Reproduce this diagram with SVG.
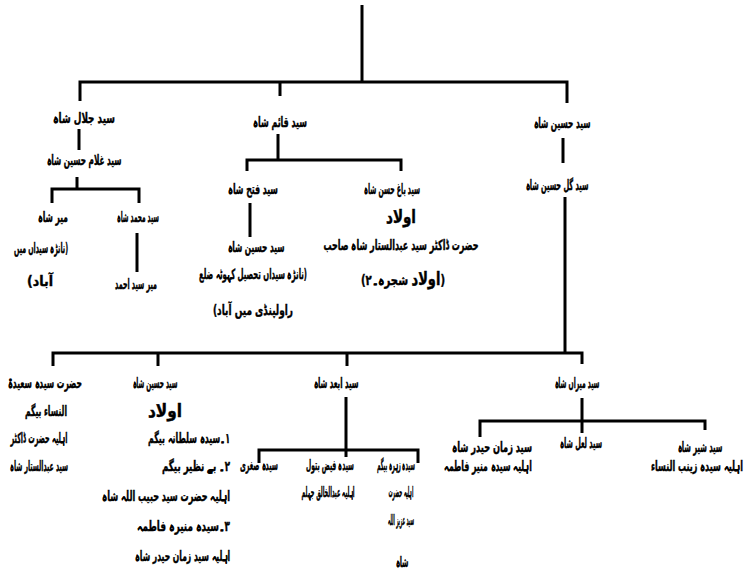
<svg xmlns="http://www.w3.org/2000/svg" width="748" height="575" viewBox="0 0 748 575">
<style>
.c{fill:none;stroke:#000;stroke-width:3}
text{font-family:"DejaVu Sans Condensed","DejaVu Sans",sans-serif;font-weight:bold;font-size:14px;fill:#000;stroke:#000;stroke-width:0.4;text-anchor:middle;direction:rtl}
.big{font-size:18px}
.r{text-anchor:start}
</style>
<rect width="748" height="575" fill="#fff"/>
<g id="connectors">
<path class="c" d="M362,5V82"/>
<path class="c" d="M80,101V82H567V103M280,82V96"/>
<path class="c" d="M79,129V150"/>
<path class="c" d="M77,177V189M52,203V189H139V203"/>
<path class="c" d="M137,233V272"/>
<path class="c" d="M278,134V160M247,171V160H401V171"/>
<path class="c" d="M250,203V237"/>
<path class="c" d="M563,138V163"/>
<path class="c" d="M565,197V353"/>
<path class="c" d="M53,366V353H582V364M158,353V366M347,353V366"/>
<path class="c" d="M582,398V421M480,437V421H705V430M582,421V433"/>
<path class="c" d="M346,397V450M259,463V450H418V463M346,450V457"/>
</g>
<g id="n-jalal"><text x="84" y="123" textLength="62" lengthAdjust="spacingAndGlyphs">سید جلال شاہ</text></g>
<g id="n-ghulam"><text x="84" y="165" textLength="75" lengthAdjust="spacingAndGlyphs">سید غلام حسین شاہ</text></g>
<g id="n-mirshah"><text x="53" y="222" textLength="30" lengthAdjust="spacingAndGlyphs">میر شاہ</text><text x="41" y="253" textLength="54" lengthAdjust="spacingAndGlyphs">(نانڑہ سیداں میں</text><text x="40" y="286" textLength="26" lengthAdjust="spacingAndGlyphs">آباد)</text></g>
<g id="n-muhammad"><text x="138" y="222" textLength="42" lengthAdjust="spacingAndGlyphs">سید محمد شاہ</text></g>
<g id="n-mirahmad"><text x="136" y="289" textLength="42" lengthAdjust="spacingAndGlyphs">میر سید احمد</text></g>
<g id="n-qaim"><text x="280" y="127" textLength="54" lengthAdjust="spacingAndGlyphs">سید قائم شاہ</text></g>
<g id="n-fateh"><text x="253" y="194" textLength="50" lengthAdjust="spacingAndGlyphs">سید فتح شاہ</text></g>
<g id="n-husain2"><text x="256" y="252" textLength="57" lengthAdjust="spacingAndGlyphs">سید حسین شاہ</text><text x="253" y="279" textLength="108" lengthAdjust="spacingAndGlyphs">(نانڑہ سیداں تحصیل کہوٹہ ضلع</text><text x="253" y="315" textLength="80" lengthAdjust="spacingAndGlyphs">راولپنڈی میں آباد)</text></g>
<g id="n-bagh"><text x="392" y="194" textLength="56" lengthAdjust="spacingAndGlyphs">سید باغ حسن شاہ</text><text class="big" x="401" y="223" textLength="30" lengthAdjust="spacingAndGlyphs">اولاد</text><text x="401" y="250" textLength="155" lengthAdjust="spacingAndGlyphs">حضرت ڈاکٹر سید عبدالستار شاہ صاحب</text><text x="403" y="285" textLength="84" lengthAdjust="spacingAndGlyphs">(<tspan class="big">اولاد</tspan> شجرہ۔۲)</text></g>
<g id="n-husainR"><text x="562" y="128" textLength="57" lengthAdjust="spacingAndGlyphs">سید حسین شاہ</text></g>
<g id="n-gul"><text x="557" y="190" textLength="63" lengthAdjust="spacingAndGlyphs">سید گل حسین شاہ</text></g>
<g id="n-saeeda"><text x="45" y="388" textLength="74" lengthAdjust="spacingAndGlyphs">حضرت سیدہ سعیدۃ</text><text x="46" y="416" textLength="42" lengthAdjust="spacingAndGlyphs">النساء بیگم</text><text x="39" y="443" textLength="57" lengthAdjust="spacingAndGlyphs">اہلیہ حضرت ڈاکٹر</text><text x="39" y="471" textLength="58" lengthAdjust="spacingAndGlyphs">سید عبدالستار شاہ</text></g>
<g id="n-husain3"><text x="155" y="388" textLength="45" lengthAdjust="spacingAndGlyphs">سید حسین شاہ</text><text class="big" x="165" y="417" textLength="34" lengthAdjust="spacingAndGlyphs">اولاد</text><text class="r" x="230" y="443" textLength="82" lengthAdjust="spacingAndGlyphs">۱۔سیدہ سلطانہ بیگم</text><text class="r" x="230" y="471" textLength="68" lengthAdjust="spacingAndGlyphs">۲۔ بے نظیر بیگم</text><text class="r" x="230" y="501" textLength="128" lengthAdjust="spacingAndGlyphs">اہلیہ حضرت سید حبیب اللہ شاہ</text><text class="r" x="230" y="531" textLength="93" lengthAdjust="spacingAndGlyphs">۳۔سیدہ منیرہ فاطمہ</text><text class="r" x="230" y="561" textLength="95" lengthAdjust="spacingAndGlyphs">اہلیہ سید زمان حیدر شاہ</text></g>
<g id="n-abd"><text x="336" y="388" textLength="45" lengthAdjust="spacingAndGlyphs">سید ابعد شاہ</text></g>
<g id="n-sughra"><text x="259" y="470" textLength="38" lengthAdjust="spacingAndGlyphs">سیدہ صغری</text></g>
<g id="n-faiz"><text x="330" y="470" textLength="48" lengthAdjust="spacingAndGlyphs">سیدہ فیض بتول</text><text x="328" y="497" textLength="53" lengthAdjust="spacingAndGlyphs">اہلیہ عبدالخالق جہلم</text></g>
<g id="n-zahra"><text x="396" y="470" textLength="38" lengthAdjust="spacingAndGlyphs">سیدہ زہرہ بیگم</text><text x="401" y="497" textLength="25" lengthAdjust="spacingAndGlyphs">اہلیہ حضرت</text><text x="401" y="525" textLength="26" lengthAdjust="spacingAndGlyphs">سید عزیز اللہ</text><text x="402" y="567" textLength="13" lengthAdjust="spacingAndGlyphs">شاہ</text></g>
<g id="n-miran"><text x="577" y="388" textLength="45" lengthAdjust="spacingAndGlyphs">سید میراں شاہ</text></g>
<g id="n-zaman"><text x="492" y="452" textLength="80" lengthAdjust="spacingAndGlyphs">سید زمان حیدر شاہ</text><text x="488" y="471" textLength="88" lengthAdjust="spacingAndGlyphs">اہلیہ سیدہ منیر فاطمہ</text></g>
<g id="n-lal"><text x="581" y="448" textLength="42" lengthAdjust="spacingAndGlyphs">سید لعل شاہ</text></g>
<g id="n-sher"><text x="700" y="452" textLength="45" lengthAdjust="spacingAndGlyphs">سید شیر شاہ</text><text x="697" y="471" textLength="92" lengthAdjust="spacingAndGlyphs">اہلیہ سیدہ زینب النساء</text></g>
</svg>
